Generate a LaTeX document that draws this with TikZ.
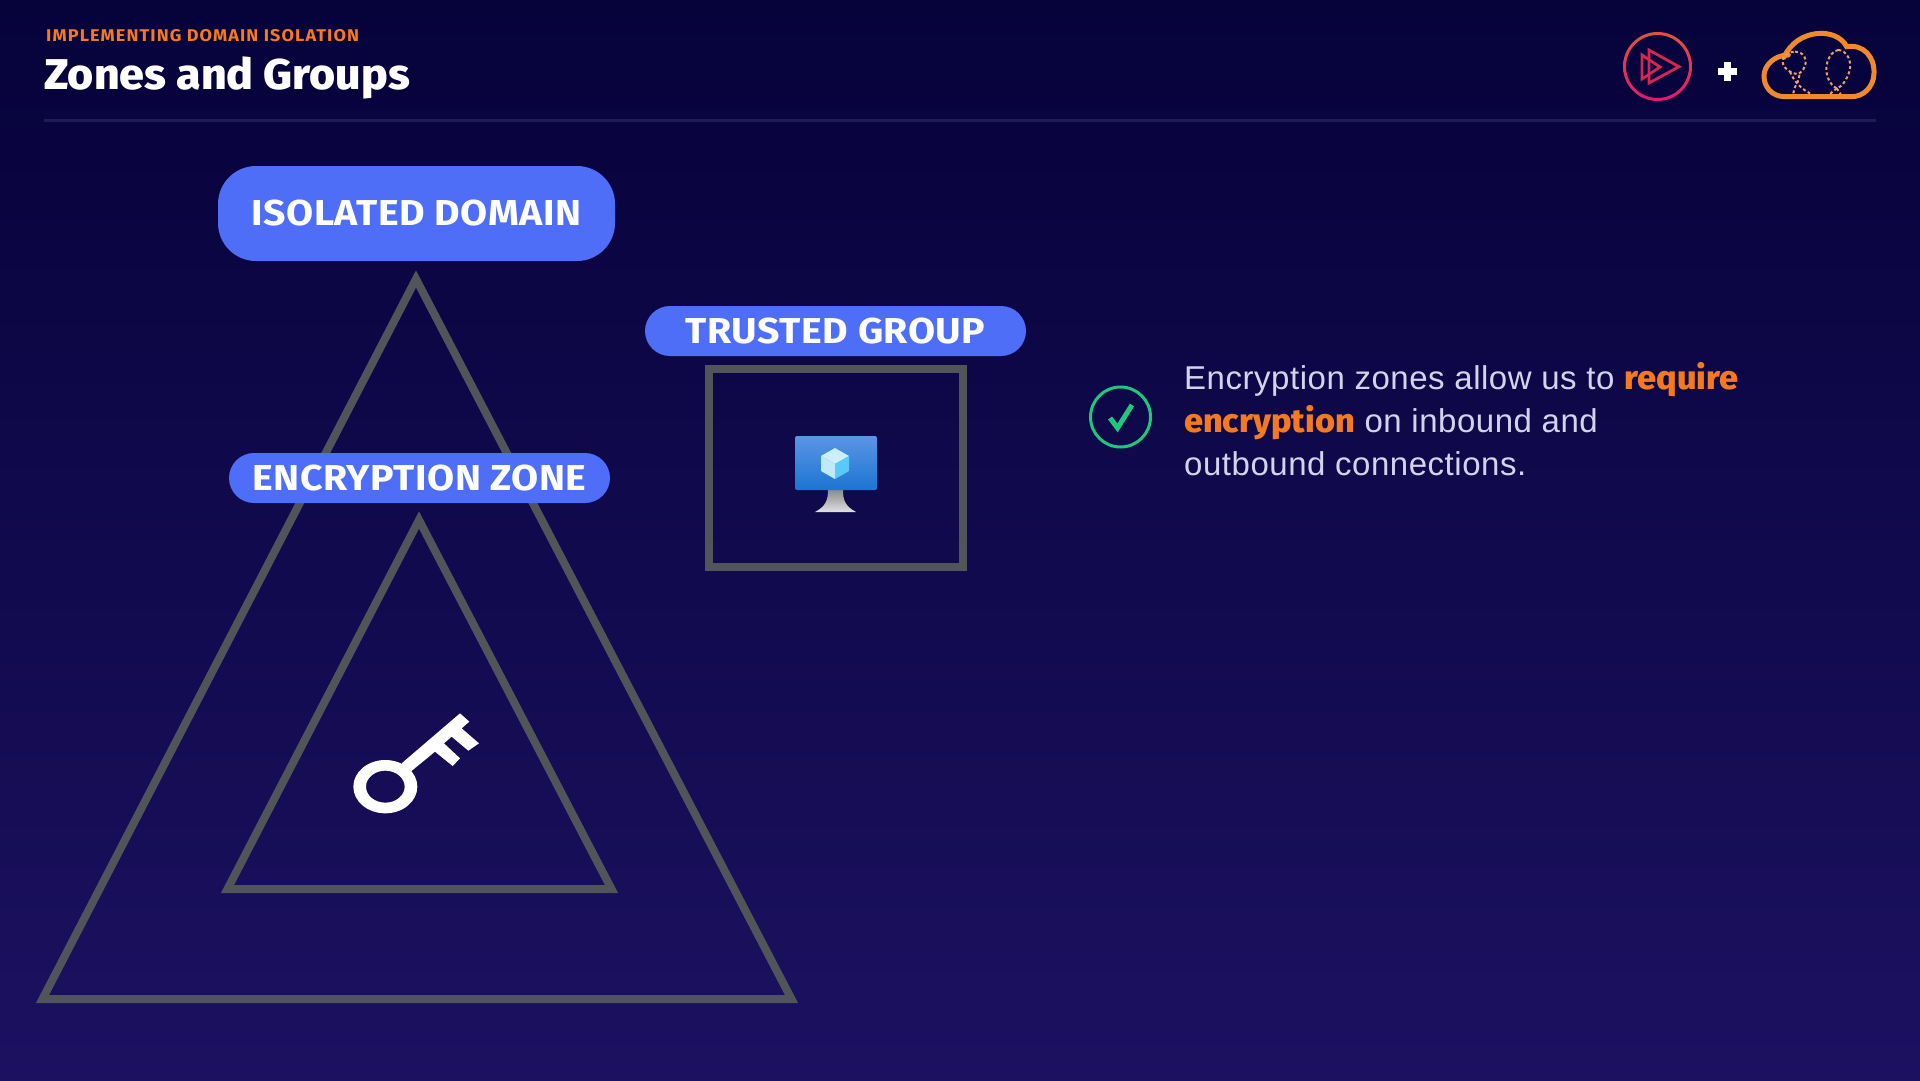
\documentclass[tikz,border=0pt]{standalone}
\usepackage{fontspec}
\usepackage{tikz}
\usetikzlibrary{positioning}
\setmainfont{Liberation Sans}[LetterSpace=1.6,BoldFont={Fira Sans ExtraBold},BoldFeatures={LetterSpace=0,FakeStretch=1.04}]
\newfontfamily\heavyfont{Fira Sans ExtraBold}[FakeStretch=1.04]
\newfontfamily\pillfont{Fira Sans Bold}[LetterSpace=1.5,FakeStretch=1.09]
\newfontfamily\capsfont{Fira Sans Bold}[LetterSpace=6.5,FakeStretch=1.06]
\definecolor{bgtop}{HTML}{06023A}
\definecolor{bgbottom}{HTML}{1C1160}
\definecolor{rulecolor}{HTML}{1F1A58}
\definecolor{pillblue}{HTML}{4F6EF7}
\definecolor{framegrey}{HTML}{515458}
\definecolor{accent}{HTML}{F47A20}
\definecolor{bodytext}{HTML}{D5D2EC}
\definecolor{okgreen}{HTML}{1FC77D}
\definecolor{cloudorange}{HTML}{EF8A2B}
\definecolor{dashorange}{HTML}{E9A070}
\definecolor{playred}{HTML}{D4264F}
\definecolor{ringtop}{HTML}{E0533F}
\definecolor{ringbottom}{HTML}{E0186F}
\definecolor{screentop}{HTML}{5B95E5}
\definecolor{screenbottom}{HTML}{1B75D2}
\tikzset{
  pill/.style={fill=pillblue, text=white, inner sep=0pt, minimum height=#1, font=\pillfont\fontsize{36}{36}\selectfont},
  frame/.style={draw=framegrey, line width=8pt, miter limit=10},
  balloon/.style={draw=dashorange, line width=2pt, dash pattern=on 3pt off 2.5pt},
}
\begin{document}
\begin{tikzpicture}[x=1pt, y=-1pt]
    \useasboundingbox (0,0) rectangle (1920,1080);
    \shade [top color=bgtop, bottom color=bgbottom] (0,0) rectangle (1920,1080);

    \node [anchor=base west, inner sep=0pt, text=accent, font=\capsfont\fontsize{17}{17}\selectfont] (kicker) at (46,41.5) {IMPLEMENTING DOMAIN ISOLATION};
    \node [anchor=base west, inner sep=0pt, text=white, font=\heavyfont\fontsize{43}{43}\selectfont] (title) at (44,89) {Zones and Groups};
    \draw [rulecolor, line width=3pt] (44,120) -- (1876,120);

    \draw [frame] (42.5,999) -- (416,279) -- (791.5,999) -- cycle;
    \draw [frame] (227.5,889) -- (419,520) -- (611.5,889) -- cycle;

    \node [pill=95pt, minimum width=397pt, rounded corners=38pt] (domain) at (416.5,213.5) {ISOLATED DOMAIN};
    \node [pill=50pt, minimum width=381pt, rounded corners=25pt] (zone) at (419.5,478) {ENCRYPTION ZONE};
    \node [pill=50pt, minimum width=381pt, rounded corners=25pt] (trusted) at (835.5,331) {TRUSTED GROUP};
    \node [frame, draw, minimum width=254pt, minimum height=198pt, inner sep=0pt, below=9pt of trusted] (group) {};

    % key
    \begin{scope}[shift={(320,680)}, x=0.3333pt, y=-0.3333pt]
      \fill [white] (245,250) -- (420,100) -- (448,125) -- (425,145) -- (477,190) -- (445,212) -- (395,170) -- (372,190) -- (420,235) -- (398,258) -- (345,215) -- (272,275) -- cycle;
      \fill [white, even odd rule] (196,320) ellipse [x radius=96, y radius=80] (196,320) ellipse [x radius=58, y radius=48];
    \end{scope}

    % monitor
    \shade [top color=black!45!white, bottom color=black!12!white] (828,490) .. controls (828,500) and (826,506) .. (815,512) -- (856,512) .. controls (845,506) and (843,500) .. (843,490) -- cycle;
    \shade [top color=screentop, bottom color=screenbottom, rounded corners=2pt] (795,436) rectangle (877,490);
    \fill [cyan!20!white] (835,448) -- (849,456) -- (835,464) -- (821,456) -- cycle;
    \fill [cyan!25!white] (821,456) -- (835,464) -- (835,479) -- (821,471) -- cycle;
    \fill [cyan!65!white] (849,456) -- (835,464) -- (835,479) -- (849,471) -- cycle;

    % check mark
    \draw [okgreen, line width=3pt] (1120.5,417) circle (30);
    \draw [okgreen, line width=5pt] (1110,418) -- (1117.5,428) -- (1132,405);

    \node [anchor=west, inner sep=0pt, align=left, text=bodytext, font=\fontsize{33}{43}\selectfont] (note) at (1184,419) {Encryption zones allow us to \textbf{\textcolor{accent}{require}}\\\textbf{\textcolor{accent}{encryption}} on inbound and\\outbound connections.};

    % logos
    \shade [top color=ringtop, bottom color=ringbottom, even odd rule] (1657.5,66.5) circle (34.5) (1657.5,66.5) circle (31.5);
    \draw [playred, line width=2.8pt, miter limit=8] (1649,50) -- (1679,66.7) -- (1649,83) -- cycle;
    \draw [playred, line width=2.8pt, miter limit=8] (1642,55) -- (1642,79) -- (1660,67) -- cycle;
    \draw [white, line width=7pt] (1717.5,71) -- (1736.5,71) (1727,61.5) -- (1727,80.5);
    \begin{scope}[shift={(1580,0)}, x=0.3333pt, y=-0.3333pt]
      \draw [cloudorange, line width=5pt, line cap=round] (612,172) .. controls (650,85) and (770,80) .. (800,140) .. controls (850,132) and (885,170) .. (882,222) .. controls (880,262) and (850,290) .. (815,290) -- (615,290) .. controls (575,290) and (552,260) .. (552,228) .. controls (552,195) and (585,165) .. (625,165);
      \draw [balloon] (645,155) .. controls (672,155) and (682,180) .. (676,195) .. controls (670,212) and (660,222) .. (650,222) .. controls (625,218) and (600,195) .. (610,175) .. controls (615,165) and (630,155) .. (645,155);
      \draw [balloon] (630,215) .. controls (640,240) and (660,265) .. (690,280);
      \draw [balloon] (658,225) .. controls (662,240) and (640,260) .. (640,280);
      \draw [balloon] (775,150) .. controls (800,150) and (818,185) .. (808,215) .. controls (800,240) and (785,262) .. (770,265) .. controls (750,255) and (735,225) .. (740,195) .. controls (745,170) and (760,150) .. (775,150);
      \draw [balloon] (770,265) -- (750,282) (770,265) -- (782,282);
    \end{scope}
\end{tikzpicture}
\end{document}
